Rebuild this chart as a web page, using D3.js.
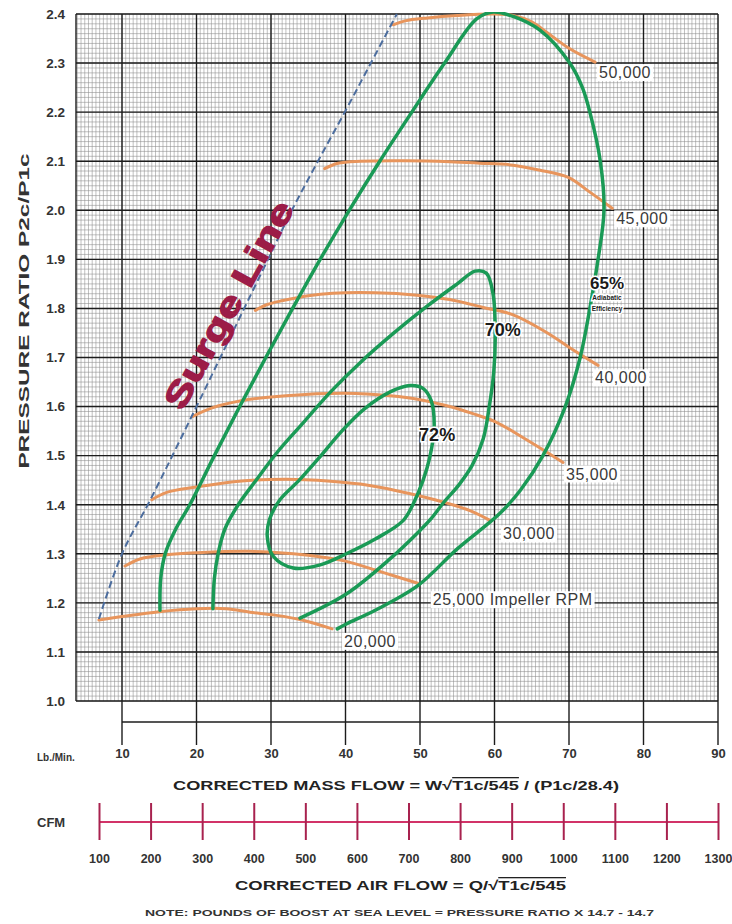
<!DOCTYPE html>
<html>
<head>
<meta charset="utf-8">
<script src="https://cdn.jsdelivr.net/npm/d3@7"></script>
<style>
  body { margin: 0; background: #fff; }
  svg { display: block; }
  text { font-family: "Liberation Sans", Arial, sans-serif; }
</style>
</head>
<body>
<svg id="chart" width="732" height="924"></svg>
<script>
// tick values
var massTicks = [10, 20, 30, 40, 50, 60, 70, 80, 90];
var cfmTicks = [100, 200, 300, 400, 500, 600, 700, 800, 900, 1000, 1100, 1200, 1300];
var ratioTicks = [1.0, 1.1, 1.2, 1.3, 1.4, 1.5, 1.6, 1.7, 1.8, 1.9, 2.0, 2.1, 2.2, 2.3, 2.4];

// surge line  [mass flow, pressure ratio]
var surge = [[6.9, 1.167], [10, 1.30], [13.8, 1.41], [20, 1.60], [23.2, 1.70], [26.4, 1.80],
             [29.6, 1.90], [32.8, 2.0], [36.3, 2.1], [39.9, 2.2], [43.4, 2.3], [46.9, 2.4]];

// impeller speed lines
var rpmNames = ["20,000", "25,000 Impeller RPM", "30,000", "35,000", "40,000", "45,000", "50,000"];
var rpm20 = [[6.9, 1.165], [10, 1.172], [15, 1.182], [20, 1.188], [24, 1.188], [27.2, 1.181],
             [30.5, 1.175], [33.9, 1.166], [38.2, 1.147]];
var rpm25 = [[10.4, 1.275], [12.5, 1.29], [16, 1.298], [20, 1.302], [27, 1.305], [33, 1.30],
             [37, 1.293], [40, 1.285], [45, 1.262], [49.7, 1.24]];
var rpm30 = [[14, 1.41], [16, 1.425], [20, 1.436], [25, 1.447], [32, 1.452], [38, 1.448],
             [42, 1.442], [47, 1.428], [52, 1.41], [56.7, 1.388], [59.4, 1.368]];
var rpm35 = [[19.5, 1.58], [22, 1.597], [26, 1.612], [32, 1.622], [40, 1.627], [46, 1.622],
             [50, 1.614], [54, 1.60], [57, 1.586], [60, 1.57], [63.8, 1.537], [66.5, 1.512], [69.2, 1.486]];
var rpm40 = [[27.9, 1.796], [29.5, 1.808], [31.6, 1.816], [35, 1.826], [38.3, 1.831], [44, 1.832],
             [49.6, 1.827], [54, 1.818], [58.5, 1.802], [62.5, 1.787], [67, 1.751], [70.1, 1.72], [73.9, 1.684]];
var rpm45 = [[37.2, 2.085], [39, 2.096], [42, 2.10], [48, 2.101], [54, 2.099], [58, 2.096],
             [62.5, 2.092], [66, 2.082], [69.9, 2.067], [72.8, 2.037], [75.8, 2.004]];
var rpm50 = [[46.4, 2.378], [48, 2.386], [51, 2.392], [55, 2.397], [60, 2.40], [62.5, 2.397],
             [65, 2.384], [67, 2.363], [70, 2.33], [73.5, 2.302]];
var rpmLines = [rpm20, rpm25, rpm30, rpm35, rpm40, rpm45, rpm50];

// efficiency islands
var eff65 = [[15.1, 1.185], [15.2, 1.25], [15.8, 1.30], [17.2, 1.35], [19.1, 1.40], [22.4, 1.50],
             [25.8, 1.60], [29.3, 1.70], [32.9, 1.80], [36.6, 1.90], [40.5, 2.00], [44.6, 2.10],
             [48.9, 2.20], [53.3, 2.30], [57.6, 2.39], [59.8, 2.404], [62.5, 2.395], [66.1, 2.367],
             [70.1, 2.30], [71.8, 2.25], [72.8, 2.2], [74.2, 2.1], [74.7, 2.0], [73.9, 1.9], [72.8, 1.8],
             [71.5, 1.7], [69.5, 1.6], [66.5, 1.5], [63.5, 1.43], [60.7, 1.382], [55, 1.31],
             [49.7, 1.235], [44, 1.185], [40.1, 1.157], [38.9, 1.147]];
var eff70 = [[22.2, 1.188], [22.4, 1.25], [22.9, 1.30], [23.8, 1.35], [25.6, 1.40], [28, 1.45],
             [31, 1.51], [34.5, 1.57], [38, 1.63], [42, 1.69], [46.5, 1.75], [51, 1.805],
             [55, 1.85], [57.4, 1.876], [58.9, 1.872], [59.8, 1.83], [60.1, 1.75], [59.9, 1.67],
             [59.3, 1.60], [58.5, 1.535], [57, 1.48], [55.2, 1.44], [53.2, 1.405], [51.4, 1.37],
             [49.7, 1.343], [46, 1.29], [40.1, 1.218], [33.9, 1.169]];
var eff72 = [[33, 1.271], [36.5, 1.277], [40.1, 1.30], [44, 1.33], [47.7, 1.367], [49.1, 1.402],
             [50.4, 1.449], [51.3, 1.496], [51.9, 1.557], [51.5, 1.612], [50.4, 1.637], [48.7, 1.643],
             [46, 1.63], [42.5, 1.595], [39.5, 1.55], [36.6, 1.498], [33.8, 1.45], [31.2, 1.41],
             [29.8, 1.37], [29.5, 1.335], [30.3, 1.295]];
var effNames = ["65%", "70%", "72%"];

var svg = d3.select('#chart');

var x = d3.scaleLinear().domain([10, 90]).range([122, 718]);
var y = d3.scaleLinear().domain([1.0, 2.4]).range([701, 14]);
var cfm = d3.scaleLinear().domain([100, 1300]).range([99, 718]);
var plotLeft = 76, plotRight = x(90), plotTop = y(2.4), plotBottom = y(1.0);

// ---- grid ----
var grid = svg.append('g');
var minorX = d3.range(8, 181).map(function(d) { return d / 2; });
var minorY = d3.range(100, 241).map(function(d) { return d / 100; });

grid.selectAll('.mx').data(minorX).enter().append('line')
  .attr('x1', function(d) { return x(d); }).attr('x2', function(d) { return x(d); })
  .attr('y1', plotTop).attr('y2', plotBottom)
  .attr('stroke', '#8c8c8c').attr('stroke-width', 0.55);
grid.selectAll('.my').data(minorY).enter().append('line')
  .attr('x1', plotLeft).attr('x2', plotRight)
  .attr('y1', function(d) { return y(d); }).attr('y2', function(d) { return y(d); })
  .attr('stroke', '#8c8c8c').attr('stroke-width', 0.55);

grid.selectAll('.hy').data(ratioTicks).enter().append('line')
  .attr('x1', plotLeft).attr('x2', plotRight)
  .attr('y1', function(d) { return y(d); }).attr('y2', function(d) { return y(d); })
  .attr('stroke', '#1c1c1c').attr('stroke-width', 1.4);
// major verticals run down through the mass flow scale
grid.selectAll('.vx').data(massTicks).enter().append('line')
  .attr('x1', function(d) { return x(d); }).attr('x2', function(d) { return x(d); })
  .attr('y1', plotTop).attr('y2', 745)
  .attr('stroke', '#1c1c1c').attr('stroke-width', 1.4);
grid.append('line').attr('x1', plotLeft).attr('x2', plotLeft)
  .attr('y1', plotTop).attr('y2', plotBottom).attr('stroke', '#1c1c1c').attr('stroke-width', 1.4);
grid.append('line').attr('x1', x(10)).attr('x2', plotRight)
  .attr('y1', 722).attr('y2', 722).attr('stroke', '#1c1c1c').attr('stroke-width', 1.4);

// ---- axes labels ----
var yAxis = svg.append('g').attr('transform', 'translate(' + plotLeft + ',0)')
  .call(d3.axisLeft(y).tickValues(ratioTicks).tickFormat(d3.format('.1f')).tickSize(0).tickPadding(11));
yAxis.select('.domain').remove();
yAxis.selectAll('text').attr('font-size', 13.5).attr('font-weight', 'bold')
  .attr('fill', '#333').attr('font-family', '"Liberation Sans", Arial, sans-serif');

var xAxis = svg.append('g').attr('transform', 'translate(0,' + plotBottom + ')')
  .call(d3.axisBottom(x).tickValues(massTicks).tickSize(0).tickPadding(48));
xAxis.select('.domain').remove();
xAxis.selectAll('text').attr('font-size', 13).attr('font-weight', 'bold')
  .attr('fill', '#333').attr('font-family', '"Liberation Sans", Arial, sans-serif');

svg.append('text').attr('x', 37).attr('y', 761).text('Lb./Min.')
  .attr('font-size', 10).attr('font-weight', 'bold').attr('fill', '#333');

svg.append('text').attr('transform', 'translate(29,' + 311 + ') rotate(-90)')
  .attr('text-anchor', 'middle').attr('font-size', 15).attr('font-weight', 'bold').attr('fill', '#333')
  .attr('textLength', 315).attr('lengthAdjust', 'spacingAndGlyphs')
  .text('PRESSURE RATIO P2c/P1c');

var massTitle = svg.append('text').attr('x', 173).attr('y', 790)
  .attr('font-size', 13).attr('font-weight', 'bold').attr('fill', '#222')
  .attr('textLength', 446).attr('lengthAdjust', 'spacingAndGlyphs');
massTitle.append('tspan').text('CORRECTED MASS FLOW = W\u221A');
massTitle.append('tspan').style('text-decoration', 'overline').text('T1c/545');
massTitle.append('tspan').text(' / (P1c/28.4)');

// ---- CFM scale ----
var cfmColor = '#d23368';
svg.append('line').attr('x1', cfm(100)).attr('x2', cfm(1300)).attr('y1', 822).attr('y2', 822)
  .attr('stroke', cfmColor).attr('stroke-width', 2.2);
var cfmAxis = svg.append('g').attr('transform', 'translate(0,803)')
  .call(d3.axisBottom(cfm).tickValues(cfmTicks).tickFormat(d3.format('d')).tickSize(37).tickPadding(14));
cfmAxis.select('.domain').remove();
cfmAxis.selectAll('line').attr('stroke', '#a8224f').attr('stroke-width', 2);
cfmAxis.selectAll('text').attr('font-size', 12.5).attr('font-weight', 'bold')
  .attr('fill', '#333').attr('font-family', '"Liberation Sans", Arial, sans-serif');
svg.append('text').attr('x', 37).attr('y', 827).text('CFM')
  .attr('font-size', 13).attr('font-weight', 'bold').attr('fill', '#333');

var airTitle = svg.append('text').attr('x', 235).attr('y', 890)
  .attr('font-size', 13).attr('font-weight', 'bold').attr('fill', '#222')
  .attr('textLength', 331).attr('lengthAdjust', 'spacingAndGlyphs');
airTitle.append('tspan').text('CORRECTED AIR FLOW = Q/\u221A');
airTitle.append('tspan').style('text-decoration', 'overline').text('T1c/545');

svg.append('text').attr('x', 145).attr('y', 916)
  .attr('font-size', 8.5).attr('font-weight', 'bold').attr('fill', '#333')
  .attr('textLength', 509).attr('lengthAdjust', 'spacingAndGlyphs')
  .text('NOTE: POUNDS OF BOOST AT SEA LEVEL = PRESSURE RATIO X 14.7 - 14.7');

// ---- curves ----
svg.append('clipPath').attr('id', 'plotClip').append('rect')
  .attr('x', plotLeft).attr('y', plotTop - 2).attr('width', plotRight - plotLeft).attr('height', plotBottom - plotTop + 2);
var curves = svg.append('g').attr('clip-path', 'url(#plotClip)');

var line = d3.line()
  .x(function(d) { return x(d[0]); })
  .y(function(d) { return y(d[1]); })
  .curve(d3.curveCatmullRom.alpha(0.5));
var closedLine = d3.line()
  .x(function(d) { return x(d[0]); })
  .y(function(d) { return y(d[1]); })
  .curve(d3.curveCatmullRomClosed.alpha(0.5));

curves.selectAll('.rpm').data(rpmLines).enter().append('path')
  .attr('d', line).attr('fill', 'none')
  .attr('stroke', '#e8955c').attr('stroke-width', 3).attr('stroke-linecap', 'round');

curves.append('path').datum(surge).attr('d', line).attr('fill', 'none')
  .attr('stroke', '#4c6d9e').attr('stroke-width', 2).attr('stroke-dasharray', '7,4');

var green = '#1a9a56';
curves.selectAll('.eff').data([eff65, eff70]).enter().append('path')
  .attr('d', line).attr('fill', 'none')
  .attr('stroke', green).attr('stroke-width', 3.5).attr('stroke-linecap', 'round');
curves.append('path').datum(eff72).attr('d', closedLine).attr('fill', 'none')
  .attr('stroke', green).attr('stroke-width', 3.5);

// ---- speed labels (white boxes at line ends) ----
var lblOffset = [[12, 18], [15, 22], [13, 19], [3, 17], [-3, 18], [4, 16], [4, 16]];
var lblG = svg.append('g');
rpmLines.forEach(function(pts, i) {
  var end = pts[pts.length - 1];
  var t = lblG.append('text')
    .attr('x', x(end[0]) + lblOffset[i][0])
    .attr('y', y(end[1]) + lblOffset[i][1])
    .attr('font-size', 16).attr('letter-spacing', 0.5).attr('fill', '#3a3a3a')
    .text(rpmNames[i]);
  var b = t.node().getBBox();
  lblG.insert('rect', function() { return t.node(); })
    .attr('x', b.x - 2).attr('y', b.y).attr('width', b.width + 4).attr('height', b.height)
    .attr('fill', '#fff');
});

// ---- efficiency labels ----
function effLabel(txt, px, py, size) {
  svg.append('text').attr('x', x(px)).attr('y', y(py)).attr('text-anchor', 'middle')
    .attr('font-family', '"DejaVu Sans", sans-serif')
    .attr('font-size', size).attr('font-weight', 'bold').attr('fill', '#1a1a1a')
    .attr('stroke', '#fff').attr('stroke-width', 3).attr('paint-order', 'stroke')
    .text(txt);
}
effLabel(effNames[2], 52.3, 1.529, 18);
effLabel(effNames[1], 61.1, 1.744, 18);
effLabel(effNames[0], 75.1, 1.840, 17);
effLabel('Adiabatic', 75.1, 1.817, 6.5);
effLabel('Efficiency', 75.1, 1.795, 6.5);

// ---- surge line label ----
svg.append('text').attr('transform', 'translate(231,306) rotate(-61)')
  .attr('text-anchor', 'middle').attr('dominant-baseline', 'middle')
  .attr('font-family', '"DejaVu Sans", sans-serif').attr('font-weight', 'bold')
  .attr('font-size', 33).attr('fill', '#9c1c47')
  .attr('stroke', '#9c1c47').attr('stroke-width', 1.4).attr('stroke-linejoin', 'round')
  .attr('textLength', 232).attr('lengthAdjust', 'spacingAndGlyphs')
  .text('Surge Line');
</script>
</body>
</html>
